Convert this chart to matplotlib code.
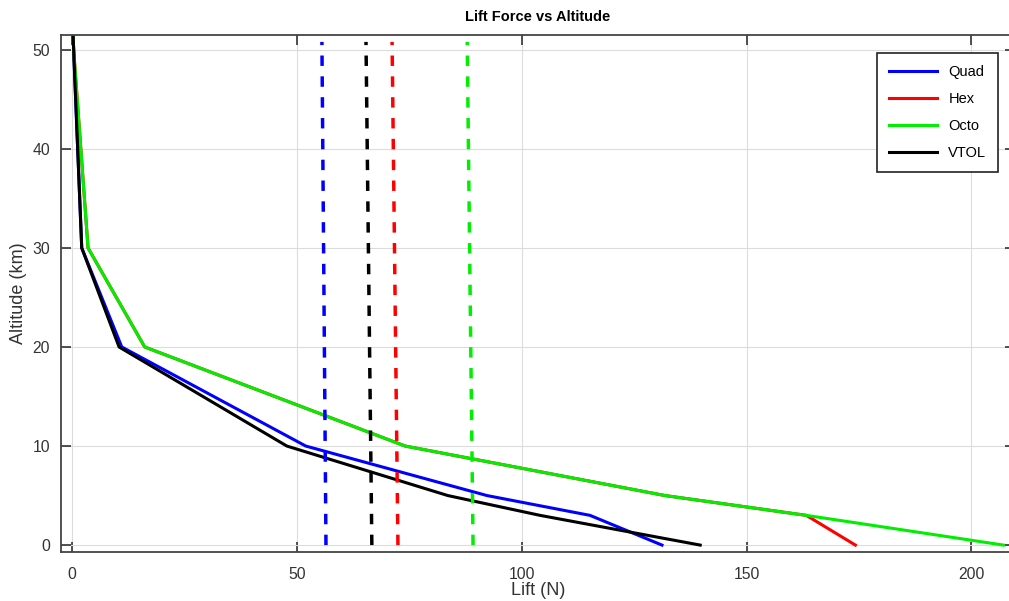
import matplotlib
matplotlib.use("Agg")
import matplotlib.pyplot as plt

plt.rcParams['font.family'] = ['Liberation Sans', 'DejaVu Sans']

# altitude points (km)
alt = [0, 3, 5, 10, 20, 30, 50, 55]

# lift (N)
quad = [131.2, 115.2, 92.3, 52.0, 11.1, 2.2, 0.4, 0.0]
hexa = [174.2, 163.3, 131.9, 74.1, 16.2, 3.6, 0.4, 0.0]
octo = [207.1, 163.3, 131.9, 74.1, 16.2, 3.6, 0.4, 0.0]
vtol = [139.7, 104.1, 83.6, 47.8, 10.5, 2.2, 0.4, 0.0]

# weight lines (N): value at bottom / top
w_alt = [0, 50.8]
w_quad = [56.5, 55.6]
w_vtol = [66.7, 65.4]
w_hexa = [72.5, 71.2]
w_octo = [89.2, 87.9]

fig = plt.figure(figsize=(10.09, 6.01), dpi=100)
# right edge of the axes sits just past the picture edge
ax = fig.add_axes([0.0605, 0.0815, 0.9455, 0.8603])

ax.plot(quad, alt, color='#0000ff', lw=2.2, label='Quad')
ax.plot(hexa, alt, color='#ff0000', lw=2.2, label='Hex')
ax.plot(octo, alt, color='#00ee00', lw=2.2, label='Octo')
ax.plot(vtol, alt, color='black', lw=2.2, label='VTOL')

ax.plot(w_quad, w_alt, color='#0000ff', lw=2.5, ls=(0, (3, 3)))
ax.plot(w_vtol, w_alt, color='black', lw=2.5, ls=(0, (3, 3)))
ax.plot(w_hexa, w_alt, color='#ff0000', lw=2.5, ls=(0, (3, 3)))
ax.plot(w_octo, w_alt, color='#00ee00', lw=2.5, ls=(0, (3, 3)))

ax.set_xlim(-2.4, 209.7)
ax.set_ylim(-0.7, 51.5)
ax.set_xticks([0, 50, 100, 150, 200])
ax.set_yticks([0, 10, 20, 30, 40, 50])
ax.grid(True, color='#dcdcdc', lw=0.8)
ax.tick_params(direction='in', length=7, width=1.2, top=True, right=True,
               labelsize=11.3, labelcolor='#333333', color='#333333')
ax.tick_params(axis='y', pad=8)
ax.tick_params(axis='x', pad=11)
for s in ax.spines.values():
    s.set_color('#444444')
    s.set_linewidth(1.3)

ax.set_xlabel('Lift (N)', fontsize=13, color='#333333', labelpad=0)
ax.set_ylabel('Altitude (km)', fontsize=13, color='#333333', labelpad=4)
ax.set_title('Lift Force vs Altitude', fontsize=10.5, fontweight='bold', pad=10)

leg = ax.legend(loc='upper right', bbox_to_anchor=(998 / 1009, 1 - 53 / 601),
                bbox_transform=fig.transFigure, borderaxespad=0, fontsize=10.5,
                handlelength=3.3, labelspacing=0.9, borderpad=0.8,
                fancybox=False, edgecolor='#222222', framealpha=1)
leg.get_frame().set_linewidth(1.2)

fig.savefig('out.png', dpi=100)
